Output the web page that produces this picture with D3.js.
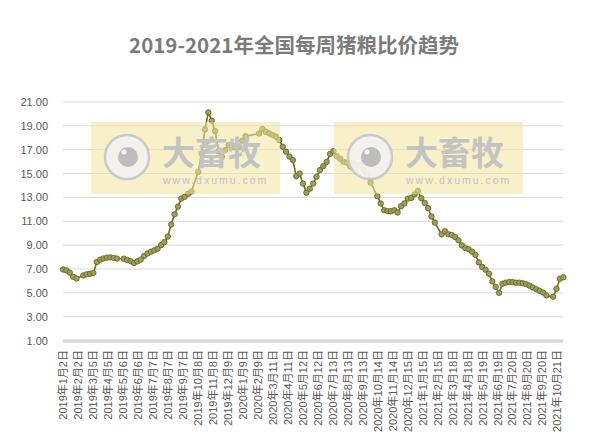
<!DOCTYPE html>
<html><head><meta charset="utf-8">
<script src="https://cdn.jsdelivr.net/npm/d3@7"></script>
<style>body{margin:0;background:#fff}svg{display:block}</style>
</head><body>
<svg id="c" width="611" height="437"></svg>
<script>
const title = "2019-2021年全国每周猪粮比价趋势";
const firstWeek = "2019-01-02";
// weekly pig-grain price ratio (null = week not published)
const values = [
 6.95,6.88,6.69,6.35,6.2,null,6.46,6.55,6.6,6.67,
 7.58,7.78,7.88,7.95,7.97,7.93,7.87,null,7.86,7.75,
 7.66,7.5,7.64,7.78,8.08,8.3,8.45,8.56,8.7,9.0,
 9.25,9.72,10.73,11.59,12.23,12.9,13.05,13.3,13.5,null,
 15.14,16.69,18.7,20.13,19.43,18.56,16.88,16.4,16.97,17.39,
 17.25,17.18,17.25,17.76,18.14,null,null,null,18.36,18.73,
 18.51,18.36,18.23,18.09,17.81,17.25,16.83,16.42,16.13,14.78,
 15.0,14.16,13.4,13.73,14.16,14.73,15.29,15.62,15.98,16.65,
 16.88,16.45,16.24,15.98,15.92,15.6,15.85,15.71,15.74,15.29,
 14.87,14.25,null,13.1,12.49,11.92,11.85,11.84,11.92,11.73,
 12.26,12.5,12.9,12.95,13.25,13.55,12.93,12.54,12.1,11.4,
 10.89,null,9.9,10.16,9.91,9.85,9.68,9.4,8.98,8.75,
 8.65,8.45,8.18,7.55,7.16,6.93,6.6,5.96,5.5,5.0,
 5.76,5.85,5.9,5.9,5.85,5.85,5.8,5.72,5.6,5.45,
 5.3,5.16,5.02,4.78,null,4.67,5.34,6.18,6.3
];
const tickLabels = [
 "2019年1月2日","2019年2月2日","2019年3月5日","2019年4月5日","2019年5月6日","2019年6月6日",
 "2019年7月7日","2019年8月7日","2019年9月7日","2019年10月8日","2019年11月8日","2019年12月9日",
 "2020年1月9日","2020年2月9日","2020年3月11日","2020年4月11日","2020年5月12日","2020年6月12日",
 "2020年7月13日","2020年8月13日","2020年9月13日","2020年10月14日","2020年11月14日","2020年12月15日",
 "2021年1月15日","2021年2月15日","2021年3月18日","2021年4月18日","2021年5月19日","2021年6月19日",
 "2021年7月20日","2021年8月20日","2021年9月20日","2021年10月21日"
];
const yTicks = [1,3,5,7,9,11,13,15,17,19,21];

const parseCN = s => { const m = s.match(/(\d+)年(\d+)月(\d+)日/); return new Date(Date.UTC(+m[1], +m[2]-1, +m[3])); };
const start = new Date(firstWeek + "T00:00:00Z");
const weeks = values.map((v,i) => d3.utcDay.offset(start, 7*i));
const data = values.map((v,i) => ({d: weeks[i], v})).filter(p => p.v != null);

const svg = d3.select("#c");
const font = "'Liberation Sans','Noto Sans CJK SC',sans-serif";
const x = d3.scaleUtc().domain([weeks[0], weeks[weeks.length-1]]).range([63, 563.3]);
const y = d3.scaleLinear().domain([1,21]).range([340.5,102]);

svg.append("text").attr("x",294).attr("y",53).attr("text-anchor","middle")
  .attr("font-family","'Noto Sans CJK SC',sans-serif").attr("font-weight","bold")
  .attr("font-size",20.5).attr("fill","#7b7b7b").text(title);

// gridlines
svg.append("g").selectAll("line").data(yTicks.filter(t=>t!==1)).join("line")
  .attr("x1",63).attr("x2",563.3).attr("y1",d=>y(d)).attr("y2",d=>y(d))
  .attr("stroke","#d9d9d9").attr("stroke-width",1);
svg.append("line").attr("x1",63).attr("x2",563.3).attr("y1",y(1)+0.5).attr("y2",y(1)+0.5)
  .attr("stroke","#d9d9d9").attr("stroke-width",3.5);

// y labels
const yAxis = d3.axisLeft(y).tickValues(yTicks).tickFormat(d3.format(".2f")).tickSize(0).tickPadding(0);
const gy = svg.append("g").attr("transform","translate(48,0)").call(yAxis);
gy.select(".domain").remove();
gy.selectAll("text").attr("font-family",font).attr("font-size",11).attr("fill","#595959");

// x labels
const xAxis = d3.axisBottom(x).tickValues(tickLabels.map(parseCN)).tickFormat((d,i)=>tickLabels[i]).tickSize(0).tickPadding(0);
const gx = svg.append("g").attr("transform","translate(0,350)").call(xAxis);
gx.select(".domain").remove();
gx.selectAll("text").attr("font-family",font).attr("font-size",11).attr("fill","#595959")
  .attr("text-anchor","end").attr("transform","rotate(-90)").attr("x",0).attr("y",0).attr("dy","0.35em");

// series
const line = d3.line().x(p=>x(p.d)).y(p=>y(p.v));
svg.append("path").datum(data).attr("d",line).attr("fill","none")
  .attr("stroke","#6e6e1c").attr("stroke-width",1.6);
svg.append("g").selectAll("circle").data(data).join("circle")
  .attr("cx",p=>x(p.d)).attr("cy",p=>y(p.v)).attr("r",2.7)
  .attr("fill","#9d9d62").attr("stroke","#6a6a18").attr("stroke-width",0.9);

// watermarks
[91,334].forEach(rx => {
  const g = svg.append("g");
  g.append("rect").attr("x",rx).attr("y",122).attr("width",189).attr("height",72)
    .attr("fill","#f0e49a").attr("opacity",0.55);
  const cx = rx+36, cy = 157;
  g.append("circle").attr("cx",cx).attr("cy",cy).attr("r",22).attr("fill","#f2f2f2")
    .attr("stroke","#c6c6c6").attr("stroke-width",2.5).attr("opacity",0.9);
  g.append("circle").attr("cx",cx+1).attr("cy",cy).attr("r",10).attr("fill","#bdbdbd");
  g.append("circle").attr("cx",cx-3).attr("cy",cy-5).attr("r",2.5).attr("fill","#f2f2f2");
  g.append("text").attr("x",rx+71).attr("y",165).attr("font-family","'Noto Sans CJK SC',sans-serif")
    .attr("font-weight","bold").attr("font-size",33).attr("fill","#c3c3c3").text("大畜牧");
  g.append("text").attr("x",rx+72).attr("y",184).attr("font-family","'Liberation Sans',sans-serif")
    .attr("font-size",10.5).attr("letter-spacing",2).attr("fill","#c3c3c3").text("www.dxumu.com");
});
</script>
</body></html>
